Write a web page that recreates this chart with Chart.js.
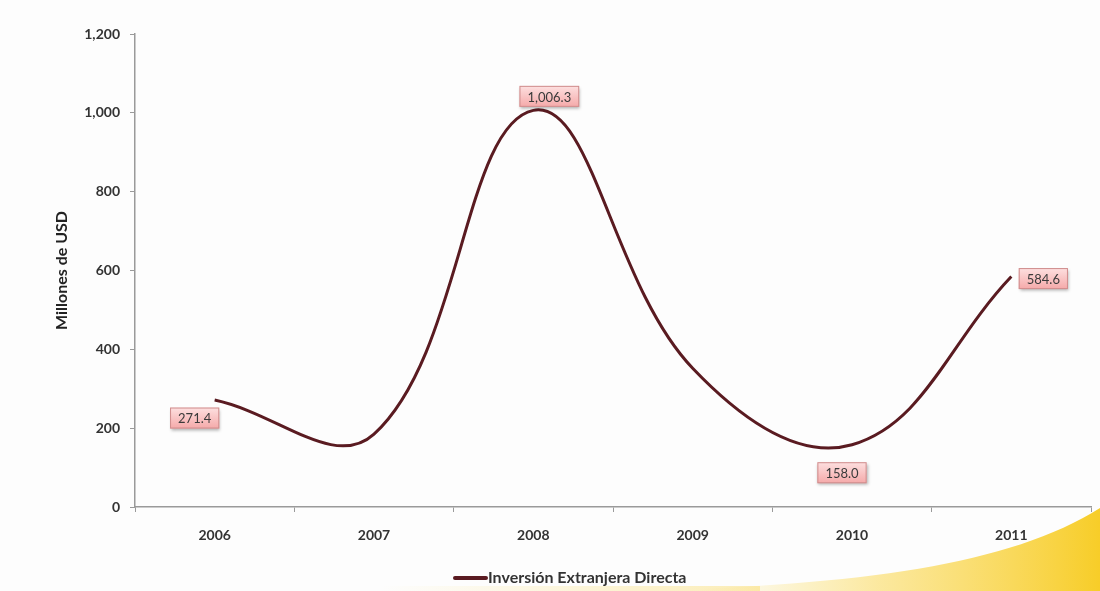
<!DOCTYPE html>
<html>
<head>
<meta charset="utf-8">
<script src="https://cdn.jsdelivr.net/npm/chart.js@4.4.1/dist/chart.umd.min.js"></script>
<style>
  html, body { margin: 0; padding: 0; background: #fdfdfd; }
  #wrap { width: 1100px; height: 591px; position: relative; }
</style>
</head>
<body>
<div id="wrap"><canvas id="c" width="1100" height="591"></canvas></div>
<script>
// Foreign direct investment, millions of USD
const years = ['2006', '2007', '2008', '2009', '2010', '2011'];
const inversion = [271.4, 185.0, 1006.3, 352.0, 158.0, 584.6];
const yTickValues = [0, 200, 400, 600, 800, 1000, 1200];
const seriesName = 'Inversión Extranjera Directa';
const axisTitle = 'Millones de USD';
// which points carry a value callout
const labelledPoints = [0, 2, 4, 5];

// callout placement relative to its point (pixels)
const calloutPlacement = {
  0: { dx: -20, dy: 18 },
  2: { dx: 16, dy: -14 },
  4: { dx: -10, dy: 28 },
  5: { dx: 32, dy: 2 }
};

const LINE = '#5a1b21';
const FONT = 'Lato, "Open Sans", sans-serif';

const fmt = v => v.toLocaleString('en-US', { minimumFractionDigits: 1, maximumFractionDigits: 1 });

// yellow swoosh in the lower right corner
const backdrop = {
  id: 'backdrop',
  beforeDraw(chart) {
    const ctx = chart.ctx;
    ctx.save();
    ctx.fillStyle = '#fdfdfd';
    ctx.fillRect(0, 0, chart.width, chart.height);
    const g = ctx.createLinearGradient(700, 0, 1100, 0);
    g.addColorStop(0, 'rgba(250,220,90,0)');
    g.addColorStop(0.45, 'rgba(250,215,80,0.55)');
    g.addColorStop(1, 'rgba(247,205,40,1)');
    ctx.fillStyle = g;
    ctx.beginPath();
    ctx.moveTo(640, 591);
    ctx.bezierCurveTo(860, 585, 1010, 565, 1100, 508);
    ctx.lineTo(1100, 591);
    ctx.closePath();
    ctx.fill();
    const g2 = ctx.createLinearGradient(380, 0, 760, 0);
    g2.addColorStop(0, 'rgba(250,225,120,0)');
    g2.addColorStop(1, 'rgba(250,220,110,0.5)');
    ctx.fillStyle = g2;
    ctx.fillRect(380, 586, 380, 5);
    ctx.restore();
  }
};

// series key under the plot
const seriesKey = {
  id: 'seriesKey',
  afterDraw(chart) {
    const ctx = chart.ctx;
    const ds = chart.data.datasets[0];
    ctx.save();
    ctx.font = 'bold 16px ' + FONT;
    const tw = ctx.measureText(ds.label).width;
    const sw = 33, gap = 2;
    const total = sw + gap + tw;
    const area = chart.chartArea;
    const x0 = Math.round((area.left + area.right) / 2 - total / 2) - 43;
    const y = 578;
    ctx.strokeStyle = ds.borderColor;
    ctx.lineWidth = 4;
    ctx.lineCap = 'round';
    ctx.beginPath();
    ctx.moveTo(x0 + 2, y);
    ctx.lineTo(x0 + sw, y);
    ctx.stroke();
    ctx.fillStyle = '#333';
    ctx.textBaseline = 'middle';
    ctx.textAlign = 'left';
    ctx.fillText(ds.label, x0 + sw + gap, y);
    ctx.restore();
  }
};

// pink value callouts
const callouts = {
  id: 'callouts',
  afterDatasetsDraw(chart) {
    const ctx = chart.ctx;
    const meta = chart.getDatasetMeta(0);
    ctx.save();
    ctx.font = '13px ' + FONT;
    ctx.textAlign = 'center';
    ctx.textBaseline = 'middle';
    labelledPoints.forEach(i => {
      const pt = meta.data[i];
      const p = calloutPlacement[i];
      const text = fmt(inversion[i]);
      const w = ctx.measureText(text).width + 16;
      const h = 21;
      const cx = pt.x + p.dx, cy = pt.y + p.dy;
      const x0 = cx - w / 2, y0 = cy - h / 2;
      ctx.shadowColor = 'rgba(0,0,0,0.3)';
      ctx.shadowBlur = 3;
      ctx.shadowOffsetX = 1;
      ctx.shadowOffsetY = 2;
      const g = ctx.createLinearGradient(0, y0, 0, y0 + h);
      g.addColorStop(0, '#fde0e0');
      g.addColorStop(1, '#f5a9a9');
      ctx.fillStyle = g;
      ctx.fillRect(x0, y0, w, h);
      ctx.shadowColor = 'transparent';
      ctx.strokeStyle = '#cf8d8d';
      ctx.lineWidth = 1;
      ctx.strokeRect(x0 + 0.5, y0 + 0.5, w - 1, h - 1);
      ctx.fillStyle = '#3a3a3a';
      ctx.fillText(text, cx, cy + 1);
    });
    ctx.restore();
  }
};

new Chart(document.getElementById('c'), {
  type: 'line',
  data: {
    labels: years,
    datasets: [{
      label: seriesName,
      data: inversion,
      borderColor: LINE,
      backgroundColor: LINE,
      borderWidth: 3,
      pointRadius: 0,
      tension: 0.4,
      fill: false
    }]
  },
  options: {
    responsive: false,
    animation: false,
    layout: { padding: { top: 34, right: 9, left: 0, bottom: 0 } },
    plugins: {
      legend: { display: false },
      tooltip: { enabled: false }
    },
    scales: {
      x: {
        type: 'category',
        offset: true,
        grid: {
          offset: true,
          drawOnChartArea: false,
          color: '#9a9a9a',
          tickLength: 5,
          tickColor: '#9a9a9a'
        },
        border: { color: '#9a9a9a', width: 1.5 },
        ticks: {
          color: '#333',
          font: { family: FONT, size: 14, weight: 'bold' },
          padding: 15,
          maxRotation: 0
        },
        afterFit(scale) { scale.height = 84; }
      },
      y: {
        min: 0,
        max: 1200,
        afterBuildTicks(scale) { scale.ticks = yTickValues.map(v => ({ value: v })); },
        grid: {
          drawOnChartArea: false,
          color: '#9a9a9a',
          tickLength: 5,
          tickColor: '#9a9a9a'
        },
        border: { color: '#9a9a9a', width: 1.5 },
        ticks: {
          color: '#333',
          font: { family: FONT, size: 14, weight: 'bold' },
          padding: 10,
          callback: v => v.toLocaleString('en-US')
        },
        title: {
          display: true,
          text: axisTitle,
          color: '#222',
          font: { family: FONT, size: 16, weight: 'bold' },
          padding: { top: 52, bottom: 0 }
        },
        afterFit(scale) { scale.width = 135; }
      }
    }
  },
  plugins: [backdrop, callouts, seriesKey]
});
</script>
</body>
</html>
